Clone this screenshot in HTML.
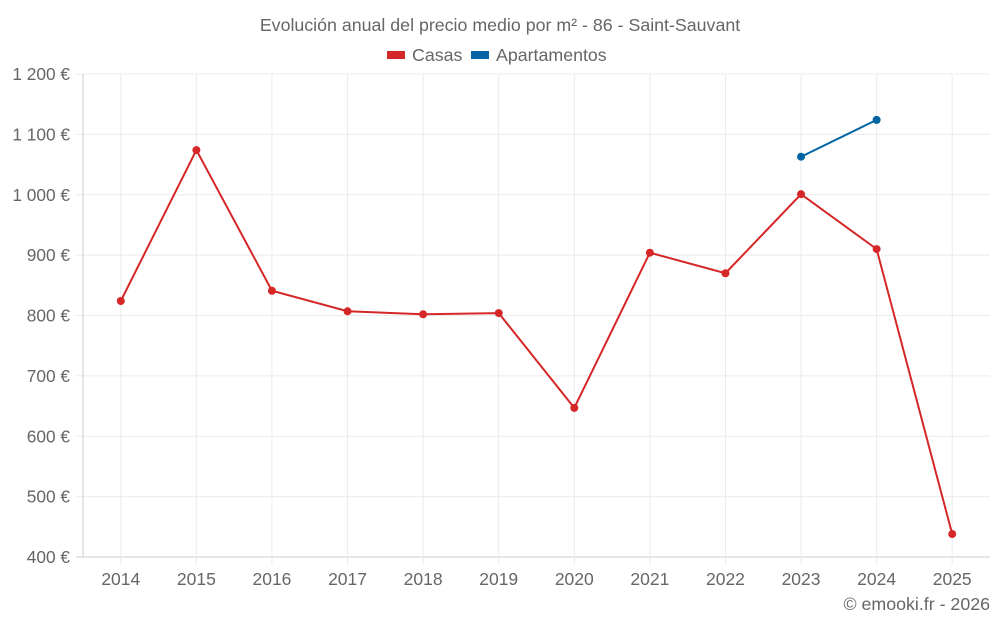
<!DOCTYPE html>
<html><head><meta charset="utf-8"><style>
body{margin:0;background:#fff;}
svg text{font-family:"Liberation Sans",sans-serif;fill:#666;}
</style></head><body>
<svg id="chart" width="1000" height="625" xmlns="http://www.w3.org/2000/svg">
<text x="500" y="31" text-anchor="middle" font-size="17.8">Evolución anual del precio medio por m² - 86 - Saint-Sauvant</text>
<g>
<rect x="387" y="51" width="18" height="8" fill="#d62728"/>
<text x="412" y="61" font-size="17.8">Casas</text>
<rect x="471" y="51" width="18" height="8" fill="#0065a2"/>
<text x="496" y="61" font-size="17.8">Apartamentos</text>
</g>
<g id="grid"></g><g id="axes"></g><g id="series"></g>
<text x="990" y="610" text-anchor="end" font-size="17.8">© emooki.fr - 2026</text>
</svg>
<script>
const categories=[2014,2015,2016,2017,2018,2019,2020,2021,2022,2023,2024,2025];
const casas=[824,1074,841,807,802,804,647,904,870,1001,910,438];
const apartamentos=[null,null,null,null,null,null,null,null,null,1063,1124,null];
const yTicks=[400,500,600,700,800,900,1000,1100,1200];
const yTickLabels=["400 €","500 €","600 €","700 €","800 €","900 €","1 000 €","1 100 €","1 200 €"];
const NS="http://www.w3.org/2000/svg";
const L=83,R=990,T=74,B=557;
const bw=(R-L)/categories.length;
const x=i=>L+bw*(i+0.5);
const y=v=>B-(v-400)/800*(B-T);
function mk(p,tag,a){const e=document.createElementNS(NS,tag);for(const k in a)e.setAttribute(k,a[k]);p.appendChild(e);return e;}
const g=document.getElementById('grid'),ax=document.getElementById('axes'),s=document.getElementById('series');
yTicks.forEach((v,i)=>{
 const l=mk(g,'line',{x1:76,x2:R,y1:y(v),y2:y(v),stroke:v===400?'#ccc':'#ebebeb'});
 
 
 const t=mk(ax,'text',{x:70,y:y(v)+6,'text-anchor':'end','font-size':17.3});
 t.textContent=yTickLabels[i];
 
 
});
categories.forEach((c,i)=>{
 const l=mk(g,'line',{x1:x(i),x2:x(i),y1:T,y2:B+8,stroke:'#ebebeb'});
 
 
 const t=mk(ax,'text',{x:x(i),y:585,'text-anchor':'middle','font-size':17.5});
 t.textContent=c;
 
 
});
const al=mk(ax,'line',{x1:L,x2:L,y1:T,y2:B,stroke:'#ccc'});


function drawSeries(vals,color,name){
 let d='',started=false;
 vals.forEach((v,i)=>{if(v==null){started=false;return;}d+=(started?'L':'M')+x(i)+' '+y(v);started=true;});
 const p=mk(s,'path',{d:d,fill:'none',stroke:color,'stroke-width':2});
 
 
 vals.forEach((v,i)=>{if(v==null)return;
  const c=mk(s,'circle',{cx:x(i),cy:y(v),r:4,fill:color});
  
  
 });
}
drawSeries(casas,'#d62728','casas');
drawSeries(apartamentos,'#0065a2','apartamentos');
</script>
</body></html>
